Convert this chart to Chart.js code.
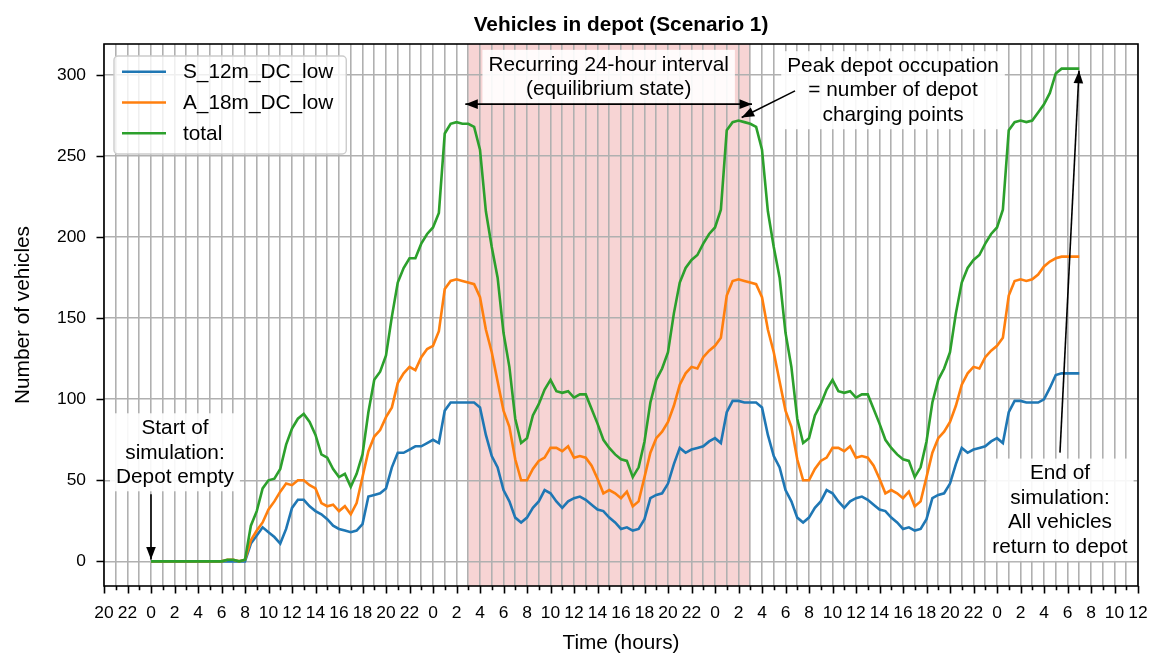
<!DOCTYPE html>
<html><head><meta charset="utf-8">
<script src="https://cdn.jsdelivr.net/npm/chart.js@4.4.1/dist/chart.umd.min.js"></script>
<style>html,body{margin:0;padding:0;background:#fff;}canvas{display:block;}</style>
</head><body>
<canvas id="c" width="1153" height="655"></canvas>
<script>
const titleText = 'Vehicles in depot (Scenario 1)';
const xTitle = 'Time (hours)';
const yTitle = 'Number of vehicles';
const seriesNames = ['S_12m_DC_low', 'A_18m_DC_low', 'total'];
const seriesColors = ['#1f77b4', '#ff7f0e', '#2ca02c'];

// samples every half hour, from hour 0 to hour 79
const hourStart = 0;
const hourStep = 0.5;

const s12 = [
 0,0,0,0,0,0,0,0,0,0,0,0,0, 0,0,0,0,
 11,16,21,18,15,11,20,33,38,38,34,31,29,26,22,20,19,18,19,23,40,41,42,45,58,67,67,69,71,71,73,75,73,93,98,98,98,
 98,98,95,78,65,58,44,37,27,24,27,33,37,44,42,37,33,37,39,40,38,35,32,31,27,24,20,21,19,20,26,39,41,42,48,60,70,67,69,70,71,74,76,73,92,99,99,98,
 98,98,95,78,65,58,44,37,27,24,27,33,37,44,42,37,33,37,39,40,38,35,32,31,27,24,20,21,19,20,26,39,41,42,48,60,70,67,69,70,71,74,76,73,
 92,99,99,98,98,98,100,107,115,116,116,116,116
];
const a18 = [
 0,0,0,0,0,0,0,0,0,0,0,0,0, 1,1,0,1,
 13,19,24,32,37,43,48,47,50,50,47,45,36,34,35,31,34,29,36,52,68,77,81,89,95,110,116,120,118,126,131,133,142,168,173,174,173,
 172,171,163,143,129,111,93,83,63,50,50,57,62,64,70,70,68,71,64,65,64,59,51,42,44,42,39,43,34,37,52,67,76,80,86,96,109,116,120,119,126,130,133,138,164,173,174,173,
 172,171,163,143,129,111,93,83,63,50,50,57,62,64,70,70,68,71,64,65,64,59,51,42,44,42,39,43,34,37,52,67,76,80,86,96,109,116,120,119,126,130,133,138,
 164,173,174,173,174,177,182,185,187,188,188,188,188
];
const total = [
 0,0,0,0,0,0,0,0,0,0,0,0,0, 1,1,0,1,
 22,31,45,50,51,57,72,82,88,91,86,78,66,64,57,52,54,46,54,66,92,112,117,127,151,172,181,187,187,196,202,206,215,264,270,271,270,
 270,268,254,216,194,175,141,120,88,73,76,90,97,106,112,105,104,105,101,103,103,94,85,75,70,66,63,62,52,58,74,98,112,119,129,153,172,181,186,189,196,202,206,217,266,271,272,271,
 270,268,254,216,194,175,141,120,88,73,76,90,97,106,112,105,104,105,101,103,103,94,85,75,70,66,63,62,52,58,74,98,112,119,129,153,172,181,186,189,196,202,206,217,
 266,271,272,271,272,277,282,289,301,304,304,304,304
];
const seriesValues = [s12, a18, total];

const xMin = -4, xMax = 84;
const yMin = -15.2, yMax = 319.2;
const xTickValues = [];
for (let h = xMin; h <= xMax; h++) xTickValues.push(h);
const yTickValues = [0, 50, 100, 150, 200, 250, 300];

const spanStart = 27, spanEnd = 51;

const notes = [
  { lines: ['Recurring 24-hour interval', '(equilibrium state)'], x: 38.95, y: 299.4 },
  { lines: ['Peak depot occupation', '= number of depot', 'charging points'], x: 63.15, y: 291 },
  { lines: ['Start of', 'simulation:', 'Depot empty'], x: 2.04, y: 67.6 },
  { lines: ['End of', 'simulation:', 'All vehicles', 'return to depot'], x: 77.36, y: 32.1 }
];
const arrows = [
  { from: [26.75, 282.1], to: [51.15, 282.1], both: true },
  { from: [54.81, 290.3], to: [50.27, 273.9] },
  { from: [0, 41.4], to: [0, 1.2] },
  { from: [77.36, 67.1], to: [78.98, 302.7] }
];

const FONT = '"Liberation Sans", Arial, sans-serif';
const TXT = 20.8;
const TICK = 17.4;

const hours = s12.map((_, i) => hourStart + i * hourStep);

function drawHead(ctx, tip, from) {
  const ang = Math.atan2(tip.y - from.y, tip.x - from.x);
  const L = 12.5, W = 4.8;
  const bx = tip.x - L * Math.cos(ang), by = tip.y - L * Math.sin(ang);
  ctx.beginPath();
  ctx.moveTo(tip.x, tip.y);
  ctx.lineTo(bx + W * Math.sin(ang), by - W * Math.cos(ang));
  ctx.lineTo(bx - W * Math.sin(ang), by + W * Math.cos(ang));
  ctx.closePath();
  ctx.fill();
}

const decor = {
  id: 'decor',
  beforeDraw(chart) {
    const { ctx, chartArea: a, scales: { x } } = chart;
    ctx.save();
    ctx.fillStyle = '#ffffff';
    ctx.fillRect(0, 0, chart.width, chart.height);
    const x0 = x.getPixelForValue(spanStart), x1 = x.getPixelForValue(spanEnd);
    ctx.fillStyle = 'rgba(214,39,40,0.2)';
    ctx.fillRect(x0, a.top, x1 - x0, a.bottom - a.top);
    ctx.restore();
  },
  afterDatasetsDraw(chart) {
    const { ctx, chartArea: a, scales: { x, y } } = chart;
    ctx.save();
    // frame
    ctx.strokeStyle = '#000';
    ctx.lineWidth = 1.6;
    ctx.strokeRect(a.left, a.top, a.right - a.left, a.bottom - a.top);
    // tick marks
    ctx.beginPath();
    xTickValues.forEach(v => {
      const px = Math.round(x.getPixelForValue(v)) + 0.5;
      const len = (v % 2 === 0) ? 7.5 : 4.3;
      ctx.moveTo(px, a.bottom);
      ctx.lineTo(px, a.bottom + len);
    });
    yTickValues.forEach(v => {
      const py = Math.round(y.getPixelForValue(v)) + 0.5;
      ctx.moveTo(a.left, py);
      ctx.lineTo(a.left - 7.5, py);
    });
    ctx.stroke();

    // legend
    ctx.font = TXT + 'px ' + FONT;
    const maxW = Math.max(...seriesNames.map(s => ctx.measureText(s).width));
    const lx = a.left + 10, ly = a.top + 12;
    const lw = 69 + maxW + 13, lh = 98;
    ctx.beginPath();
    if (ctx.roundRect) ctx.roundRect(lx, ly, lw, lh, 4); else ctx.rect(lx, ly, lw, lh);
    ctx.fillStyle = 'rgba(255,255,255,0.8)';
    ctx.fill();
    ctx.strokeStyle = '#cccccc';
    ctx.lineWidth = 1.4;
    ctx.stroke();
    seriesNames.forEach((name, i) => {
      const ry = ly + 15.7 + i * 30.8;
      ctx.strokeStyle = seriesColors[i];
      ctx.lineWidth = 2.6;
      ctx.beginPath();
      ctx.moveTo(lx + 8, ry);
      ctx.lineTo(lx + 52, ry);
      ctx.stroke();
      ctx.fillStyle = '#000';
      ctx.textAlign = 'left';
      ctx.textBaseline = 'middle';
      ctx.fillText(name, lx + 69, ry + 1);
    });

    // annotation texts
    const gap = 24.5;
    notes.forEach(n => {
      const cx = x.getPixelForValue(n.x), cy = y.getPixelForValue(n.y);
      const first = cy - (n.lines.length - 1) / 2 * gap;
      const last = first + (n.lines.length - 1) * gap;
      ctx.font = TXT + 'px ' + FONT;
      const w = Math.max(...n.lines.map(s => ctx.measureText(s).width));
      ctx.fillStyle = 'rgba(255,255,255,0.9)';
      ctx.fillRect(cx - w / 2 - 6, first - 14, w + 12, last - first + 29);
      ctx.fillStyle = '#000';
      ctx.textAlign = 'center';
      ctx.textBaseline = 'middle';
      n.lines.forEach((s, i) => ctx.fillText(s, cx, first + i * gap + 1));
    });

    // arrows
    ctx.strokeStyle = '#000';
    ctx.fillStyle = '#000';
    ctx.lineWidth = 1.6;
    arrows.forEach(ar => {
      const p0 = { x: x.getPixelForValue(ar.from[0]), y: y.getPixelForValue(ar.from[1]) };
      const p1 = { x: x.getPixelForValue(ar.to[0]), y: y.getPixelForValue(ar.to[1]) };
      ctx.beginPath();
      ctx.moveTo(p0.x, p0.y);
      ctx.lineTo(p1.x, p1.y);
      ctx.stroke();
      drawHead(ctx, p1, p0);
      if (ar.both) drawHead(ctx, p0, p1);
    });
    ctx.restore();
  },
  afterDraw(chart) {
    const { ctx, chartArea: a } = chart;
    ctx.save();
    ctx.fillStyle = '#000';
    ctx.textAlign = 'center';
    ctx.textBaseline = 'alphabetic';
    ctx.font = 'bold ' + TXT + 'px ' + FONT;
    ctx.fillText(titleText, (a.left + a.right) / 2, a.top - 13);
    ctx.font = TXT + 'px ' + FONT;
    ctx.fillText(xTitle, (a.left + a.right) / 2, 649);
    ctx.translate(28.5, (a.top + a.bottom) / 2);
    ctx.rotate(-Math.PI / 2);
    ctx.fillText(yTitle, 0, 0);
    ctx.restore();
  }
};

Chart.defaults.font.family = FONT;

new Chart(document.getElementById('c'), {
  type: 'line',
  data: {
    datasets: seriesValues.map((vals, k) => ({
      label: seriesNames[k],
      data: hours.map((h, i) => ({ x: h, y: vals[i] })),
      borderColor: seriesColors[k],
      backgroundColor: seriesColors[k],
      borderWidth: 2.6,
      pointRadius: 0,
      tension: 0,
      fill: false,
      order: 3 - k
    }))
  },
  options: {
    responsive: false,
    animation: false,
    devicePixelRatio: 1,
    layout: { padding: { top: 44, right: 15, left: 0, bottom: 0 } },
    plugins: { legend: { display: false }, title: { display: false }, tooltip: { enabled: false } },
    scales: {
      x: {
        type: 'linear', min: xMin, max: xMax,
        afterBuildTicks: s => { s.ticks = xTickValues.map(v => ({ value: v })); },
        afterFit: s => { s.height = 69; s.paddingLeft = 0; s.paddingRight = 0; },
        ticks: {
          autoSkip: false, maxRotation: 0, minRotation: 0, padding: 17,
          font: { size: TICK }, color: '#000',
          callback: v => (v % 2 === 0) ? String(((v % 24) + 24) % 24) : ''
        },
        grid: { color: '#b0b0b0', lineWidth: 1.6, drawTicks: false },
        border: { display: false }
      },
      y: {
        type: 'linear', min: yMin, max: yMax,
        afterBuildTicks: s => { s.ticks = yTickValues.map(v => ({ value: v })); },
        afterFit: s => { s.width = 104; s.paddingTop = 0; s.paddingBottom = 0; },
        ticks: { padding: 18, font: { size: TICK }, color: '#000' },
        grid: { color: '#b0b0b0', lineWidth: 1.6, drawTicks: false },
        border: { display: false }
      }
    }
  },
  plugins: [decor]
});
</script>
</body></html>
